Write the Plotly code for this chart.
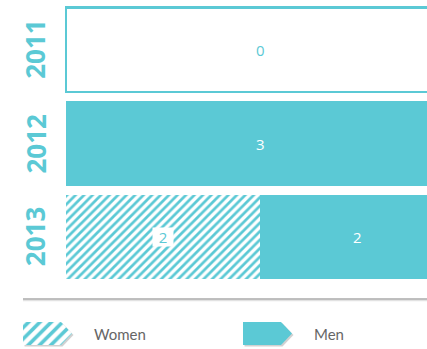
import plotly.graph_objects as go

# --- data -------------------------------------------------------------
years = ["2011", "2012", "2013"]
women = [0, 0, 2]
men = [0, 3, 2]
legend_labels = ["Women", "Men"]

CYAN = "#5bc9d5"
W, H = 427, 349

totals = [w + m for w, m in zip(women, men)]
women_pct = [w / t * 100 if t else 0 for w, t in zip(women, totals)]
men_pct = [m / t * 100 if t else 0 for m, t in zip(men, totals)]
empty_pct = [0 if t else 100 for t in totals]
rows = list(range(len(years)))

fig = go.Figure()

# Women: hatched segment
fig.add_trace(go.Bar(
    y=rows, x=women_pct, orientation="h", name="Women",
    marker=dict(color=CYAN, line=dict(width=0),
                pattern=dict(shape="/", fgcolor=CYAN, bgcolor="white",
                             size=6, solidity=0.45, fillmode="replace")),
    hoverinfo="skip", showlegend=False,
))
# Men: solid segment
fig.add_trace(go.Bar(
    y=rows, x=men_pct, orientation="h", name="Men",
    marker=dict(color=CYAN, line=dict(width=0)),
    hoverinfo="skip", showlegend=False,
))
# Years with no entries: outlined empty bar
fig.add_trace(go.Bar(
    y=rows, x=empty_pct, orientation="h", name="none",
    marker=dict(color="white", line=dict(color=CYAN, width=2.5)),
    hoverinfo="skip", showlegend=False,
))

annotations = []
# value labels centred on each segment
for r, w, m, t, wp, mp, ep in zip(rows, women, men, totals, women_pct, men_pct, empty_pct):
    if t == 0:
        annotations.append(dict(x=ep / 2, y=r, xref="x", yref="y", text=str(t),
                                showarrow=False, font=dict(family="Open Sans", size=15, color=CYAN)))
        continue
    if w > 0:
        annotations.append(dict(x=wp / 2, y=r, xref="x", yref="y", text=str(w),
                                showarrow=False, bgcolor="white", width=18, height=16,
                                font=dict(family="Open Sans", size=15, color=CYAN)))
    if m > 0:
        annotations.append(dict(x=wp + mp / 2, y=r, xref="x", yref="y", text=str(m),
                                showarrow=False, font=dict(family="Open Sans", size=15, color="white")))

# rotated year labels
for r, yr in zip(rows, years):
    annotations.append(dict(x=35 / W, y=r, xref="paper", yref="y", text=f"<b>{yr}</b>",
                            textangle=-90, showarrow=False, xanchor="center", yanchor="middle",
                            font=dict(family="Open Sans", size=26, color=CYAN)))

# legend: arrow-shaped swatches drawn on a full-figure pixel overlay
def tag(x0, y0):
    xs = [x0, x0 + 38, x0 + 49, x0 + 38, x0, x0]
    ys = [y0, y0, y0 + 11.5, y0 + 23, y0 + 23, y0]
    return xs, ys

legend_pos = [(23, 322), (243, 322)]
for label, (lx, ly) in zip(legend_labels, legend_pos):
    sx, sy = tag(lx + 1.5, ly + 1.5)
    fig.add_trace(go.Scatter(x=sx, y=sy, mode="lines", fill="toself",
                             fillcolor="rgba(0,0,0,0.18)", line=dict(width=0),
                             xaxis="x2", yaxis="y2", hoverinfo="skip", showlegend=False))
    tx, ty = tag(lx, ly)
    if label == "Women":
        fig.add_trace(go.Scatter(x=tx, y=ty, mode="lines", fill="toself", fillcolor=CYAN,
                                 fillpattern=dict(shape="/", fgcolor=CYAN, bgcolor="white",
                                                  size=8, solidity=0.45, fillmode="replace"),
                                 line=dict(width=0), xaxis="x2", yaxis="y2",
                                 hoverinfo="skip", showlegend=False))
    else:
        fig.add_trace(go.Scatter(x=tx, y=ty, mode="lines", fill="toself", fillcolor=CYAN,
                                 line=dict(width=0), xaxis="x2", yaxis="y2",
                                 hoverinfo="skip", showlegend=False))
    annotations.append(dict(x=lx + 69, y=ly + 11.5, xref="x2", yref="y2", text=label,
                            showarrow=False, xanchor="left", yanchor="middle",
                            font=dict(family="Lato", size=15, color="#666666")))

# x scale: a full (100 %) bar spans 388 px starting at x = 66 px;
# the axis begins 2 px earlier so the outline's left stroke is not clipped
PX_PER_PCT = 388 / 100
X0_PX = 64
x_range = [-(66 - X0_PX) / PX_PER_PCT, (W - 66) / PX_PER_PCT]

fig.update_layout(
    width=W, height=H,
    margin=dict(l=0, r=0, t=0, b=0, pad=0),
    paper_bgcolor="white", plot_bgcolor="rgba(0,0,0,0)",
    barmode="stack", bargap=0.1,
    xaxis=dict(domain=[X0_PX / W, 1], range=x_range, visible=False, fixedrange=True),
    yaxis=dict(domain=[1 - 284 / H, 1 - 3 / H], range=[len(years) - 0.5, -0.5],
               visible=False, fixedrange=True),
    xaxis2=dict(domain=[0, 1], range=[0, W], anchor="y2", visible=False, fixedrange=True),
    yaxis2=dict(domain=[0, 1], range=[H, 0], anchor="x2", visible=False, fixedrange=True),
    annotations=annotations,
    shapes=[
        dict(type="line", xref="paper", yref="paper", x0=23 / W, x1=1,
             y0=1 - 300.5 / H, y1=1 - 300.5 / H, line=dict(color="#e2e2e2", width=1.5)),
        dict(type="line", xref="paper", yref="paper", x0=23 / W, x1=1,
             y0=1 - 299 / H, y1=1 - 299 / H, line=dict(color="#aaaaaa", width=1.3)),
    ],
    showlegend=False,
)

fig.write_html("out.html")
